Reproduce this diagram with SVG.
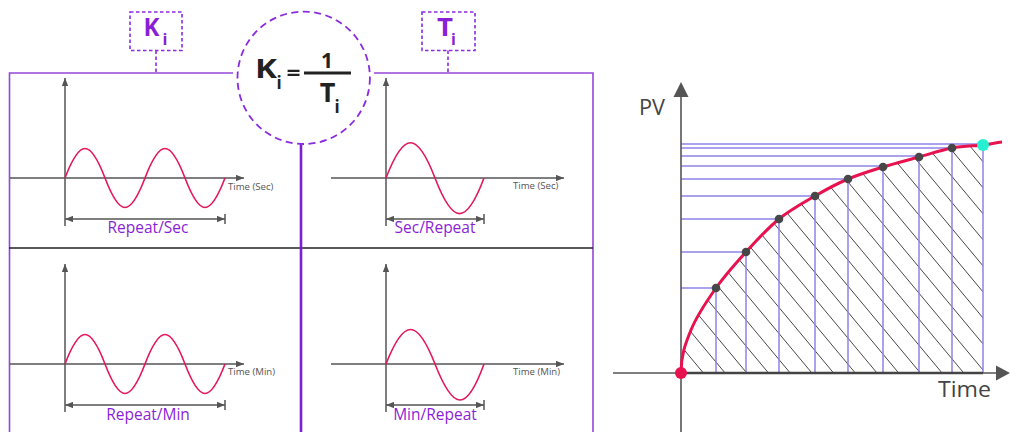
<svg xmlns="http://www.w3.org/2000/svg" width="1010" height="432" viewBox="0 0 1010 432">
<defs>
<style>
.frame{stroke:#9546d9;stroke-width:1.6;fill:none}
.dash{stroke:#8a2be2;stroke-width:1.6;fill:none;stroke-dasharray:3.5 2.5}
.ax{stroke:#555;stroke-width:1.5;fill:none}
.wave{stroke:#e3175a;stroke-width:1.6;fill:none}
.lbl{font-family:"Open Sans","Liberation Sans",sans-serif;font-size:15.5px;font-weight:500;fill:#8a1fd6;text-anchor:middle}
.tl{font-family:"Open Sans","Liberation Sans",sans-serif;font-size:9.6px;fill:#555}
.big{font-family:"Open Sans","Liberation Sans",sans-serif;font-weight:700}
.blue{stroke:#8e84e6;stroke-width:1.5;fill:none}
.ch{font-family:"Open Sans","Liberation Sans",sans-serif;font-size:21px;fill:#444}
</style>
<marker id="arrs" viewBox="0 0 10 8" refX="10" refY="4" markerUnits="userSpaceOnUse" markerWidth="8" markerHeight="6.5" orient="auto-start-reverse">
<path d="M0 0L10 4L0 8z" fill="#555"/>
</marker>
<clipPath id="under">
<path d="M681 373C681 355 685.2 344.2 691 330C696.8 315.8 706.8 301 716 288C725.2 275 735.5 263.5 746 252C756.5 240.5 767.5 228.3 779 219C790.5 209.7 803.5 202.7 815 196C826.5 189.3 836.7 183.8 848 179C859.3 174.2 871.2 170.7 883 167C894.8 163.3 907.5 160.2 919 157C930.5 153.8 941.3 150 952 148C962.7 146 974.8 146 983 145L983 373Z"/>
</clipPath>
</defs>
<rect width="1010" height="432" fill="#fff"/>

<g id="frame">
<path class="frame" d="M9.5 432V73H233M374 73H593V432"/>
<line x1="9" y1="248" x2="593" y2="248" stroke="#222" stroke-width="1.5"/>
<line x1="301" y1="144" x2="301" y2="432" stroke="#7b1fd0" stroke-width="2.6"/>
</g>

<g id="ki-label">
<rect class="dash" x="130" y="12" width="52" height="38.5"/>
<line class="dash" x1="156" y1="50.5" x2="156" y2="73"/>
<text class="big" x="143.5" y="36" font-size="25" fill="#8a1fd6" textLength="16" lengthAdjust="spacingAndGlyphs">K</text>
<text class="big" x="162.5" y="45" font-size="16" fill="#8a1fd6">i</text>
</g>

<g id="ti-label">
<rect class="dash" x="422" y="12" width="53" height="38.5"/>
<line class="dash" x1="448" y1="50.5" x2="448" y2="73"/>
<text class="big" x="437" y="35.5" font-size="25" fill="#8a1fd6" textLength="16" lengthAdjust="spacingAndGlyphs">T</text>
<text class="big" x="451" y="45" font-size="16" fill="#8a1fd6">i</text>
</g>

<g id="formula">
<circle cx="303.7" cy="77.8" r="66.2" stroke="#8a2be2" stroke-width="1.8" fill="none" stroke-dasharray="7 4.5"/>
<text class="big" x="255" y="78" font-size="26" fill="#222" textLength="22" lengthAdjust="spacingAndGlyphs">K</text>
<text class="big" x="276.5" y="88.5" font-size="17" fill="#222">i</text>
<text class="big" x="286.5" y="80" font-size="22" fill="#222" textLength="14" lengthAdjust="spacingAndGlyphs">=</text>
<line x1="304" y1="73" x2="351" y2="73" stroke="#222" stroke-width="2.8"/>
<text class="big" x="327" y="68" font-size="21" fill="#222" text-anchor="middle">1</text>
<text class="big" x="327.5" y="102" font-size="27" fill="#222" text-anchor="middle">T</text>
<text class="big" x="334.5" y="112.5" font-size="17" fill="#222">i</text>
</g>

<g id="panel-repeat-sec">
<line class="ax" x1="65" y1="226" x2="65" y2="78" marker-end="url(#arrs)"/>
<line class="ax" x1="10" y1="178" x2="244" y2="178" marker-end="url(#arrs)"/>
<path class="wave" d="M65 178c15-39.3 25-39.3 40 0s25 39.3 40 0s25-39.3 40 0s25 39.3 40 0"/>
<text class="tl" x="228" y="190">Time (Sec)</text>
<line class="ax" x1="65" y1="219" x2="225" y2="219" marker-start="url(#arrs)" marker-end="url(#arrs)"/>
<line class="ax" x1="225" y1="214" x2="225" y2="224"/>
<text class="lbl" x="148" y="233">Repeat/Sec</text>
</g>

<g id="panel-sec-repeat">
<line class="ax" x1="386" y1="226" x2="386" y2="78" marker-end="url(#arrs)"/>
<line class="ax" x1="331" y1="178" x2="564" y2="178" marker-end="url(#arrs)"/>
<path class="wave" d="M386 178c18-47 31-47 49 0s31 48 49 0"/>
<text class="tl" x="513" y="189">Time (Sec)</text>
<line class="ax" x1="386" y1="219" x2="484" y2="219" marker-start="url(#arrs)" marker-end="url(#arrs)"/>
<line class="ax" x1="484" y1="214" x2="484" y2="224"/>
<text class="lbl" x="435" y="233">Sec/Repeat</text>
</g>

<g id="panel-repeat-min">
<line class="ax" x1="65" y1="412" x2="65" y2="264" marker-end="url(#arrs)"/>
<line class="ax" x1="10" y1="364" x2="244" y2="364" marker-end="url(#arrs)"/>
<path class="wave" d="M65 364c15-39.3 25-39.3 40 0s25 39.3 40 0s25-39.3 40 0s25 39.3 40 0"/>
<text class="tl" x="228" y="375">Time (Min)</text>
<line class="ax" x1="65" y1="405" x2="225" y2="405" marker-start="url(#arrs)" marker-end="url(#arrs)"/>
<line class="ax" x1="225" y1="400" x2="225" y2="410"/>
<text class="lbl" x="148" y="420">Repeat/Min</text>
</g>

<g id="panel-min-repeat">
<line class="ax" x1="386" y1="412" x2="386" y2="264" marker-end="url(#arrs)"/>
<line class="ax" x1="331" y1="364" x2="564" y2="364" marker-end="url(#arrs)"/>
<path class="wave" d="M386 364c18-46 31-46 49 0s31 50 49 0"/>
<text class="tl" x="513" y="375">Time (Min)</text>
<line class="ax" x1="386" y1="405" x2="484" y2="405" marker-start="url(#arrs)" marker-end="url(#arrs)"/>
<line class="ax" x1="484" y1="400" x2="484" y2="410"/>
<text class="lbl" x="435" y="420">Min/Repeat</text>
</g>

<g id="integral-chart">
<g clip-path="url(#under)">
<path stroke="#333" stroke-width="0.9" fill="none" d="M701.7 397L431.7 73M723.4 397L453.4 73M745.1 397L475.1 73M766.8 397L496.8 73M788.5 397L518.5 73M810.2 397L540.2 73M831.9 397L561.9 73M853.6 397L583.6 73M875.3 397L605.3 73M897 397L627 73M918.7 397L648.7 73M940.4 397L670.4 73M962.1 397L692.1 73M983.8 397L713.8 73M1005.5 397L735.5 73M1027.2 397L757.2 73M1048.9 397L778.9 73M1070.6 397L800.6 73M1092.3 397L822.3 73M1114 397L844 73M1135.7 397L865.7 73M1157.4 397L887.4 73M1179.1 397L909.1 73"/>
</g>
<path class="blue" d="M681 288H716M681 252H746M681 219H779M681 196H815M681 179H848M681 166H883M681 156H919M681 148H952M681 144H983"/>
<path class="blue" d="M716 288V373M746 252V373M779 219V373M815 196V373M848 179V373M883 167V373M919 157V373M952 148V373M983 145V373"/>
<line x1="681" y1="432" x2="681" y2="95" stroke="#555" stroke-width="1.6"/>
<path d="M681 82L673.5 97H688.5Z" fill="#555"/>
<line x1="613" y1="373" x2="998" y2="373" stroke="#555" stroke-width="1.5"/>
<line x1="681" y1="373" x2="983" y2="373" stroke="#444" stroke-width="2.6"/>
<path d="M1010 373L996 365.5V380.5Z" fill="#555"/>
<path d="M681 373C681 355 685.2 344.2 691 330C696.8 315.8 706.8 301 716 288C725.2 275 735.5 263.5 746 252C756.5 240.5 767.5 228.3 779 219C790.5 209.7 803.5 202.7 815 196C826.5 189.3 836.7 183.8 848 179C859.3 174.2 871.2 170.7 883 167C894.8 163.3 907.5 160.2 919 157C930.5 153.8 941.3 150 952 148C962.7 146 974.8 146 983 145C991 144 996 142.5 1002 142" stroke="#e8124f" stroke-width="3" fill="none"/>
<g fill="#474747">
<circle cx="716" cy="288" r="4.3"/>
<circle cx="746" cy="252" r="4.3"/>
<circle cx="779" cy="219" r="4.3"/>
<circle cx="815" cy="196" r="4.3"/>
<circle cx="848" cy="179" r="4.3"/>
<circle cx="883" cy="167" r="4.3"/>
<circle cx="919" cy="157" r="4.3"/>
<circle cx="952" cy="148" r="4.3"/>
</g>
<circle cx="983" cy="145" r="6" fill="#26f0d2"/>
<circle cx="681" cy="373" r="6" fill="#e8124f"/>
<text class="ch" x="639" y="115" textLength="26" lengthAdjust="spacingAndGlyphs">PV</text>
<text class="ch" x="938" y="397" textLength="53" lengthAdjust="spacingAndGlyphs">Time</text>
</g>
</svg>
